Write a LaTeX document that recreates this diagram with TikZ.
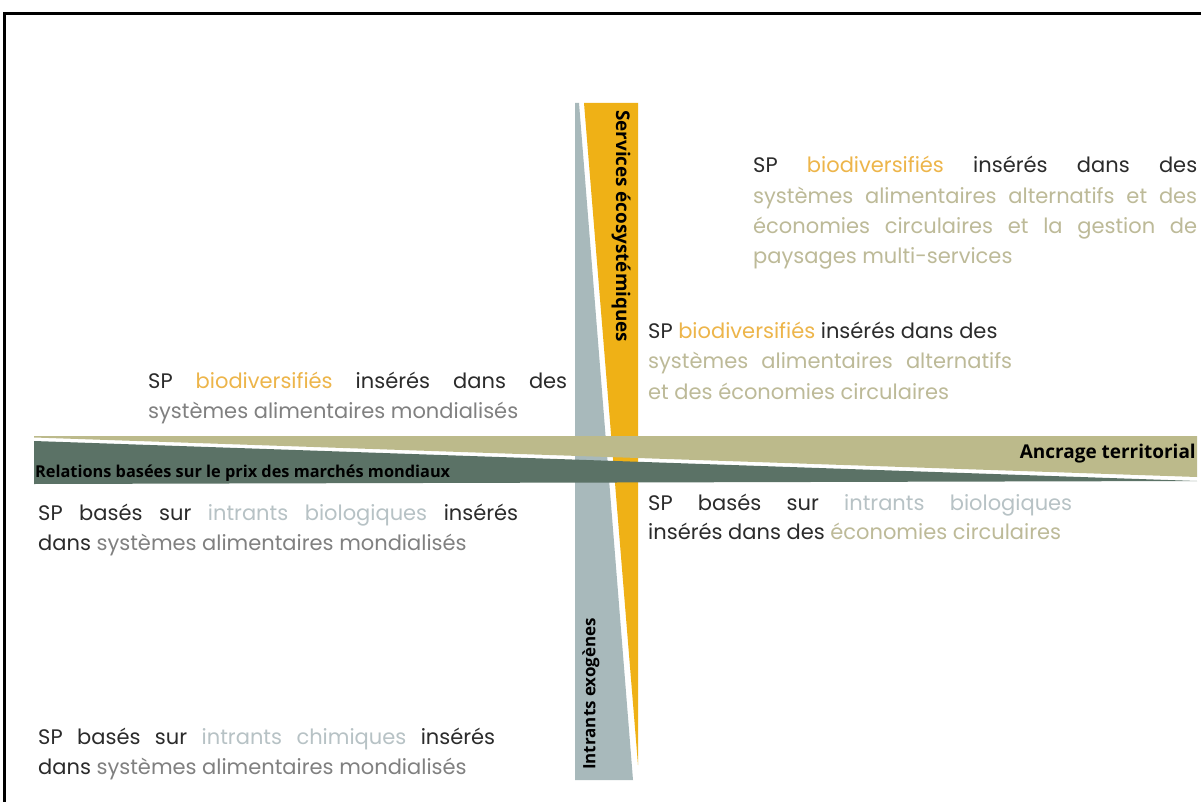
\documentclass[tikz,border=0pt]{standalone}
\usepackage{fontspec}
\usepackage{graphicx}
\setmainfont{Poppins}
\newfontfamily\lblfont{Open Sans}
\definecolor{tblack}{HTML}{2B2B2B}
\definecolor{orng}{HTML}{EDB54A}
\definecolor{tkhaki}{HTML}{BDBA98}
\definecolor{tgray}{HTML}{808080}
\definecolor{tblue}{HTML}{B7C2C5}
\definecolor{colYel}{HTML}{EFB116}
\definecolor{colGry}{HTML}{A8B9BB}
\definecolor{colKha}{HTML}{BCBA8B}
\definecolor{colDrk}{HTML}{5B7266}
\newcommand{\jl}[2]{\makebox[#1][s]{#2}}
\begin{document}
\begin{tikzpicture}[x=1pt,y=-1pt,
  txt/.style={anchor=base west, inner sep=0, font=\fontsize{21}{25}\selectfont, text=tblack},
  lbl/.style={inner sep=0, font=\lblfont\bfseries, text=black}]
\useasboundingbox (0,0) rectangle (1201,802);
\fill[white] (0,0) rectangle (1201,802);
% frame
\draw[line width=3pt] (4,802) -- (4,14) -- (1201,14);
% vertical bar
\fill[fill=colGry] (575,103) -- (579,103) -- (633,780) -- (575,780) -- cycle;
\fill[fill=colYel] (584,103) -- (638,103) -- (638,765) -- cycle;
% horizontal bar
\fill[fill=colKha] (34,436) -- (1197,436) -- (1197,477) -- (34,437.5) -- cycle;
\fill[fill=colDrk] (34,441) -- (1197,481) -- (34,484) -- cycle;
% labels
\node[lbl, anchor=base west] (rel) at (35,477) {\resizebox{415pt}{!}{Relations basées sur le prix des marchés mondiaux}};
\node[lbl, anchor=base east] (anc) at (1196,458) {\resizebox{176pt}{!}{Ancrage territorial}};
\node[lbl, rotate=-90, anchor=west] (ser) at (621,110) {\resizebox{232pt}{!}{Services écosystémiques}};
\node[lbl, rotate=90, anchor=west] (intr) at (591,770) {\resizebox{152pt}{!}{Intrants exogènes}};
% top right
\node[txt] (tr1) at (753,173) {\jl{444pt}{SP \textcolor{orng}{biodiversifiés} insérés dans des}};
\node[txt, text=tkhaki] (tr2) at (753,204) {\jl{444pt}{systèmes alimentaires alternatifs et des}};
\node[txt, text=tkhaki] (tr3) at (753,234) {\jl{444pt}{économies circulaires et la gestion de}};
\node[txt, text=tkhaki] (tr4) at (753,264) {paysages multi-services};
% middle right
\node[txt] (mr1) at (648,338) {SP \textcolor{orng}{biodiversifiés} insérés dans des};
\node[txt, text=tkhaki] (mr2) at (648,368) {\jl{364pt}{systèmes alimentaires alternatifs}};
\node[txt, text=tkhaki] (mr3) at (648,399) {et des économies circulaires};
% left upper
\node[txt] (lu1) at (148,388) {\jl{419pt}{SP \textcolor{orng}{biodiversifiés} insérés dans des}};
\node[txt, text=tgray] (lu2) at (148,418) {systèmes alimentaires mondialisés};
% right lower
\node[txt] (rl1) at (648,510) {\jl{424pt}{SP basés sur \textcolor{tblue}{intrants biologiques}}};
\node[txt] (rl2) at (648,539) {insérés dans des \textcolor{tkhaki}{économies circulaires}};
% left middle
\node[txt] (lm1) at (38,520) {\jl{480pt}{SP basés sur \textcolor{tblue}{intrants biologiques} insérés}};
\node[txt] (lm2) at (38,550) {dans \textcolor{tgray}{systèmes alimentaires mondialisés}};
% left bottom
\node[txt] (lb1) at (38,744) {\jl{457pt}{SP basés sur \textcolor{tblue}{intrants chimiques} insérés}};
\node[txt] (lb2) at (38,774) {dans \textcolor{tgray}{systèmes alimentaires mondialisés}};
\end{tikzpicture}
\end{document}
